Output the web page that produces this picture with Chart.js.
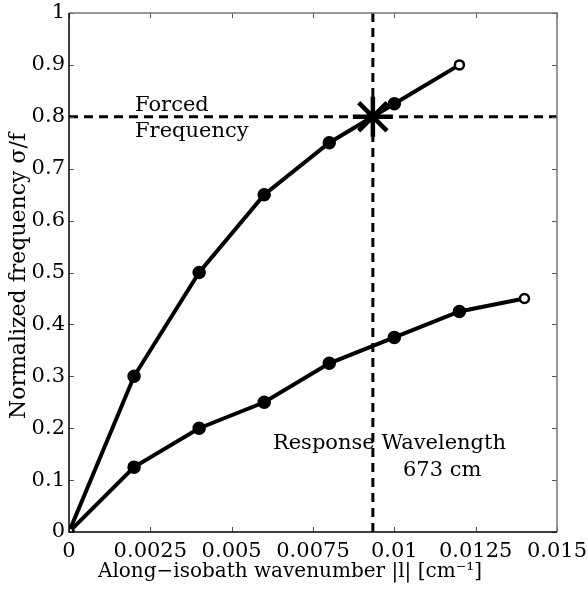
<!DOCTYPE html>
<html>
<head>
<meta charset="utf-8">
<script src="https://cdn.jsdelivr.net/npm/chart.js@4.4.1/dist/chart.umd.min.js"></script>
<style>
  html, body { margin: 0; padding: 0; background: #fff; }
  #wrap { width: 588px; height: 591px; }
</style>
</head>
<body>
<div id="wrap"><canvas id="chart" width="588" height="591"></canvas></div>
<script>
// data
const upperX = [0, 0.002, 0.004, 0.006, 0.008, 0.010, 0.012];
const upperY = [0, 0.30, 0.50, 0.65, 0.75, 0.825, 0.90];
const lowerX = [0, 0.002, 0.004, 0.006, 0.008, 0.010, 0.012, 0.014];
const lowerY = [0, 0.125, 0.20, 0.25, 0.325, 0.375, 0.425, 0.45];
const forcedFrequency = 0.8;
const responseWavenumber = 0.00934;
const xTickLabels = ["0", "0.0025", "0.005", "0.0075", "0.01", "0.0125", "0.015"];
const yTickLabels = ["0", "0.1", "0.2", "0.3", "0.4", "0.5", "0.6", "0.7", "0.8", "0.9", "1"];
const xTitle = "Along\u2212isobath wavenumber |l| [cm\u207B\u00B9]";
const yTitle = "Normalized frequency \u03C3/f";
const notes = [
  { text: "Forced", x: 0.00203, y: 0.822, align: "left" },
  { text: "Frequency", x: 0.00203, y: 0.771, align: "left" },
  { text: "Response Wavelength", x: 0.00985, y: 0.171, align: "center" },
  { text: "673 cm", x: 0.01147, y: 0.118, align: "center" }
];

const FONT = "'DejaVu Serif', 'Liberation Serif', serif";

function pts(xs, ys) {
  return xs.map((x, i) => ({ x: x, y: ys[i] }));
}

// hollow markers at the ends, filled in between
function fills(n) {
  return Array.from({ length: n }, (_, i) => (i === 0 || i === n - 1) ? "#fff" : "#000");
}
function radii(n) {
  return Array.from({ length: n }, (_, i) => (i === 0 || i === n - 1) ? 4.5 : 5.5);
}

const boxPlugin = {
  id: "box",
  afterDraw(chart) {
    const ctx = chart.ctx;
    const a = chart.chartArea;
    const xs = chart.scales.x, ys = chart.scales.y;
    ctx.save();
    // inward ticks on all four sides
    ctx.strokeStyle = "#555";
    ctx.lineWidth = 1;
    ctx.beginPath();
    xs.ticks.forEach(t => {
      const px = Math.round(xs.getPixelForValue(t.value)) + 0.5;
      ctx.moveTo(px, a.bottom); ctx.lineTo(px, a.bottom - 5);
      ctx.moveTo(px, a.top); ctx.lineTo(px, a.top + 5);
    });
    ys.ticks.forEach(t => {
      const py = Math.round(ys.getPixelForValue(t.value)) + 0.5;
      ctx.moveTo(a.left, py); ctx.lineTo(a.left + 5, py);
      ctx.moveTo(a.right, py); ctx.lineTo(a.right - 5, py);
    });
    ctx.stroke();
    // frame: top/right grey, left/bottom black
    ctx.lineWidth = 1.5;
    ctx.strokeStyle = "#777";
    ctx.beginPath();
    ctx.moveTo(a.left, a.top); ctx.lineTo(a.right, a.top); ctx.lineTo(a.right, a.bottom);
    ctx.stroke();
    ctx.strokeStyle = "#000";
    ctx.beginPath();
    ctx.moveTo(a.left, a.top); ctx.lineTo(a.left, a.bottom); ctx.lineTo(a.right, a.bottom);
    ctx.stroke();
    // text notes
    ctx.fillStyle = "#000";
    ctx.font = "21px " + FONT;
    ctx.textBaseline = "middle";
    notes.forEach(n => {
      ctx.textAlign = n.align;
      ctx.fillText(n.text, xs.getPixelForValue(n.x), ys.getPixelForValue(n.y));
    });
    // axis titles (the original sits a bit left of centre)
    ctx.textAlign = "center";
    ctx.font = "20px " + FONT;
    ctx.fillText(xTitle, 290, 572);
    ctx.translate(19, 276);
    ctx.rotate(-Math.PI / 2);
    ctx.font = "22px " + FONT;
    ctx.fillText(yTitle, 0, 0);
    ctx.restore();
  }
};

const ctx = document.getElementById("chart").getContext("2d");

new Chart(ctx, {
  type: "scatter",
  data: {
    datasets: [
      {
        data: [{ x: responseWavenumber, y: forcedFrequency }],
        pointStyle: "star",
        pointRadius: 20,
        borderColor: "#000",
        borderWidth: 4.5,
        showLine: false
      },
      {
        data: pts(upperX, upperY),
        showLine: true,
        borderColor: "#000",
        borderWidth: 4,
        pointRadius: radii(upperX.length),
        pointBackgroundColor: fills(upperX.length),
        pointBorderColor: "#000",
        pointBorderWidth: 2.5
      },
      {
        data: pts(lowerX, lowerY),
        showLine: true,
        borderColor: "#000",
        borderWidth: 4,
        pointRadius: radii(lowerX.length),
        pointBackgroundColor: fills(lowerX.length),
        pointBorderColor: "#000",
        pointBorderWidth: 2.5
      },
      {
        data: [{ x: 0, y: forcedFrequency }, { x: 0.015, y: forcedFrequency }],
        showLine: true,
        borderColor: "#000",
        borderWidth: 3,
        borderDash: [9, 6],
        pointRadius: 0
      },
      {
        data: [{ x: responseWavenumber, y: 0 }, { x: responseWavenumber, y: 1 }],
        showLine: true,
        borderColor: "#000",
        borderWidth: 3,
        borderDash: [9, 6],
        pointRadius: 0
      }
    ]
  },
  options: {
    responsive: false,
    animation: false,
    events: [],
    layout: { autoPadding: false, padding: { top: 13, right: 31, left: 0, bottom: 0 } },
    plugins: {
      legend: { display: false },
      tooltip: { enabled: false }
    },
    scales: {
      x: {
        type: "linear",
        min: 0,
        max: 0.015,
        afterFit(s) { s.height = 59; s.paddingLeft = 0; s.paddingRight = 0; },
        grid: { display: false, drawTicks: false },
        border: { display: false },
        ticks: {
          stepSize: 0.0025,
          padding: 7,
          maxRotation: 0,
          color: "#000",
          font: { family: FONT, size: 21 },
          callback: (v, i) => xTickLabels[i]
        }
      },
      y: {
        type: "linear",
        min: 0,
        max: 1,
        afterFit(s) { s.width = 69; s.paddingTop = 0; s.paddingBottom = 0; },
        grid: { display: false, drawTicks: false },
        border: { display: false },
        ticks: {
          stepSize: 0.1,
          padding: 4,
          color: "#000",
          font: { family: FONT, size: 21 },
          callback: (v, i) => yTickLabels[i]
        }
      }
    }
  },
  plugins: [boxPlugin]
});
</script>
</body>
</html>
